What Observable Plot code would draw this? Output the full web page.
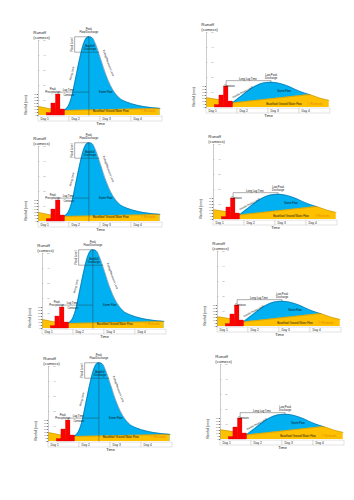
<!DOCTYPE html>
<html><head><meta charset="utf-8">
<script src="https://cdn.jsdelivr.net/npm/d3@7"></script>
<script src="https://cdn.jsdelivr.net/npm/@observablehq/plot@0.6"></script>
<style>
html,body{margin:0;padding:0;background:#fff;}
#wrap{position:relative;width:354px;height:500px;overflow:hidden;background:#fff;}
#wrap svg{position:absolute;font-family:"Liberation Sans",Arial,sans-serif !important;}
#wrap svg text{font-family:"Liberation Sans",Arial,sans-serif;}
</style></head><body><div id="wrap"></div>
<script>
// ---------- data ----------
const days = ["Day 1", "Day 2", "Day 3", "Day 4"];
const rainStartHours = [6.5, 10, 13.5, 17];
const rainEndHours = [10, 13.5, 17, 20.5];
const rainfallMm = [4, 20, 35, 10];
const rainTicksMm = [0, 5, 10, 15, 20, 25, 30, 35];
const runoffTicks = [10, 20, 30, 40, 50];

// flashy hydrograph (left column)
const flashyHours = [19.6, 22.2, 24.8, 27.3, 30, 32.5, 35, 37, 39, 41.6, 44, 48, 51.9, 55.7, 59.6, 63.5, 68.7, 76.4, 84, 94];
const flashyFlow  = [3.3, 5.1, 9.9, 18.7, 30, 40, 48, 51.5, 52.5, 51.8, 48, 38, 27.8, 20, 14.5, 11, 8.8, 6.8, 5.6, 4.7];
const flashyBaseHours = [0, 9.3, 19.6, 94];
const flashyBaseFlow  = [6, 4.4, 3.3, 4.7];

// subdued hydrograph (right column)
const subduedHours = [20, 26, 32, 38, 44, 50, 56, 62, 68, 74, 80];
const subduedFlow  = [3, 7, 11, 14.3, 16.3, 16.8, 16.2, 14.6, 12.4, 10.2, 8.6];
const subduedBaseHours = [0, 10, 20, 80, 88, 95];
const subduedBaseFlow  = [6.5, 5.2, 3, 8.6, 6.2, 4.7];

// ---------- layout ----------
const panelKinds   = ["flashy", "subdued", "flashy", "subdued", "flashy", "subdued", "flashy", "subdued"];
const panelAxisX   = [38, 206, 38, 213, 42, 217, 48, 220];
const panelGroundY = [115, 107, 221, 219, 328, 326, 441, 439];
const mmToCumecs = 0.4;
const FONT = "Liberation Sans, Arial, sans-serif";

const rows = (hs, vs) => hs.map((h, i) => ({h, v: vs[i]}));
const rain = rainfallMm.map((mm, i) => ({x1: rainStartHours[i], x2: rainEndHours[i], v: mm * mmToCumecs}));

const flashyNotes = [
  {t: "Peak", h: 39, v: 57.4, a: "middle"},
  {t: "Flow/Discharge", h: 39, v: 55.4, a: "middle"},
  {t: "Bankfull", h: 39.8, v: 46, a: "start"},
  {t: "Discharge", h: 39.8, v: 44, a: "start"},
  {t: "Flood Level", h: 26.3, v: 47.3, a: "middle", r: -90},
  {t: "Rising Limb", h: 25.8, v: 28, a: "middle", r: -76},
  {t: "Falling/Recession Limb", h: 54, v: 35, a: "middle", r: 70},
  {t: "Peak", h: 11, v: 17.4, a: "middle"},
  {t: "Precipitation", h: 11, v: 15.6, a: "middle"},
  {t: "Lag Time", h: 23, v: 17.2, a: "middle"},
  {t: "Contours", h: 23.5, v: 13.8, a: "middle"},
  {t: "Storm Flow", h: 52, v: 15.3, a: "middle"},
  {t: "Baseflow/ Ground Water Flow", h: 56, v: 3.2, a: "middle"}
];
const subduedNotes = [
  {t: "Long Lag Time", h: 32, v: 19, a: "middle"},
  {t: "Low Peak", h: 50, v: 21.6, a: "middle"},
  {t: "Discharge", h: 50, v: 19.9, a: "middle"},
  {t: "Contours", h: 17.8, v: 14.3, a: "start"},
  {t: "Gentle Rising Limb", h: 28, v: 10.2, a: "middle", r: -28},
  {t: "Storm Flow", h: 60, v: 11.1, a: "middle"},
  {t: "Baseflow/ Ground Water Flow", h: 60, v: 2.5, a: "middle"}
];
const flashyRules = [
  {x1: 39, x2: 39, y1: 0, y2: 52.5},
  {x1: 28, x2: 39, y1: 52.5, y2: 52.5},
  {x1: 28, x2: 47, y1: 42.2, y2: 42.2},
  {x1: 28, x2: 28, y1: 42.2, y2: 52.5},
  {x1: 15.2, x2: 39, y1: 15.6, y2: 15.6},
  {x1: 15.2, x2: 15.2, y1: 14, y2: 15.6}
];
const subduedRules = [
  {x1: 15.2, x2: 50, y1: 17.9, y2: 17.9},
  {x1: 15.2, x2: 15.2, y1: 14, y2: 17.9},
  {x1: 50, x2: 50, y1: 16.8, y2: 17.9}
];

function panel(kind) {
  const flashy = kind === "flashy";
  const hydro = flashy ? rows(flashyHours, flashyFlow) : rows(subduedHours, subduedFlow);
  const base = flashy ? rows(flashyBaseHours, flashyBaseFlow) : rows(subduedBaseHours, subduedBaseFlow);
  const notes = flashy ? flashyNotes : subduedNotes;
  const rules = flashy ? flashyRules : subduedRules;
  const wm = flashy ? {h: 85, v: 3.2} : {h: 84, v: 2.5};
  return Plot.plot({
    width: 170, height: 110,
    marginLeft: 40, marginRight: 6, marginTop: 20, marginBottom: 15,
    x: {domain: [0, 96], axis: null},
    y: {domain: [0, 50]},
    style: {background: "transparent", overflow: "visible", fontFamily: FONT, fontSize: "3px"},
    marks: [
      Plot.areaY(hydro, {x: "h", y: "v", fill: "#00b0f0", curve: "catmull-rom"}),
      Plot.areaY(base, {x: "h", y: "v", fill: "#ffc000", curve: "linear"}),
      Plot.lineY(hydro, {x: "h", y: "v", stroke: "#1f5f8f", strokeWidth: 0.5, curve: "catmull-rom"}),
      Plot.lineY(base, {x: "h", y: "v", stroke: "#7f6a2a", strokeWidth: 0.3}),
      Plot.rectY(rain, {x1: "x1", x2: "x2", y: "v", fill: "#ff0000", stroke: "#c00000", strokeWidth: 0.3}),
      Plot.link(rules, {x1: "x1", x2: "x2", y1: "y1", y2: "y2", stroke: "#333", strokeWidth: 0.4}),
      Plot.ruleX([0], {y1: -1.5, y2: 50, stroke: "#999", strokeWidth: 0.5}),
      Plot.axisY({ticks: rainTicksMm.map(m => m * mmToCumecs), tickFormat: v => Math.round(v / mmToCumecs),
        anchor: "left", tickSize: 1.2, tickPadding: 0.8, fontSize: 2.2, label: null, stroke: "#777", fill: "#777"}),
      Plot.ruleY(runoffTicks, {x1: 0, x2: 1.2, stroke: "#999", strokeWidth: 0.3}),
      Plot.text(runoffTicks, {x: 0, y: d => d, text: d => String(d), dx: 6, fontSize: 2.2, fill: "#888"}),
      Plot.rect(days, {x1: (d, i) => i * 24, x2: (d, i) => (i + 1) * 24, y1: -0.7, y2: -4, fill: "white", stroke: "#bbb", strokeWidth: 0.4}),
      Plot.text(days, {x: (d, i) => i * 24 + 1.5, y: -2.35, text: d => d, textAnchor: "start", fontSize: 3.2, fill: "#222"}),
      Plot.text(["Time"], {x: 48, y: -5.8, text: d => d, fontSize: 4, fill: "#222"}),
      Plot.text(["Runoff"], {x: -4, y: 55, text: d => d, textAnchor: "start", fontSize: 4.3, fill: "#222"}),
      Plot.text(["(cumecs)"], {x: -4, y: 51.8, text: d => d, textAnchor: "start", fontSize: 4, fill: "#222"}),
      Plot.text(["Rainfall (mm)"], {x: -10, y: 7, text: d => d, rotate: -90, fontSize: 3.3, fill: "#222"}),
      Plot.text(notes, {x: "h", y: "v", text: "t", textAnchor: d => d.a, rotate: d => d.r || 0, fontSize: 2.7, fill: "#111"}),
      Plot.text(["© Richards"], {x: wm.h, y: wm.v, text: d => d, fontSize: 3, fill: "#e08a00"})
    ]
  });
}

const wrap = document.getElementById("wrap");
panelKinds.forEach((k, i) => {
  const svg = panel(k);
  svg.setAttribute("font-family", FONT);
  svg.style.fontFamily = FONT;
  svg.style.left = (panelAxisX[i] - 40) + "px";
  svg.style.top = (panelGroundY[i] - 95) + "px";
  wrap.appendChild(svg);
});
</script></body></html>
